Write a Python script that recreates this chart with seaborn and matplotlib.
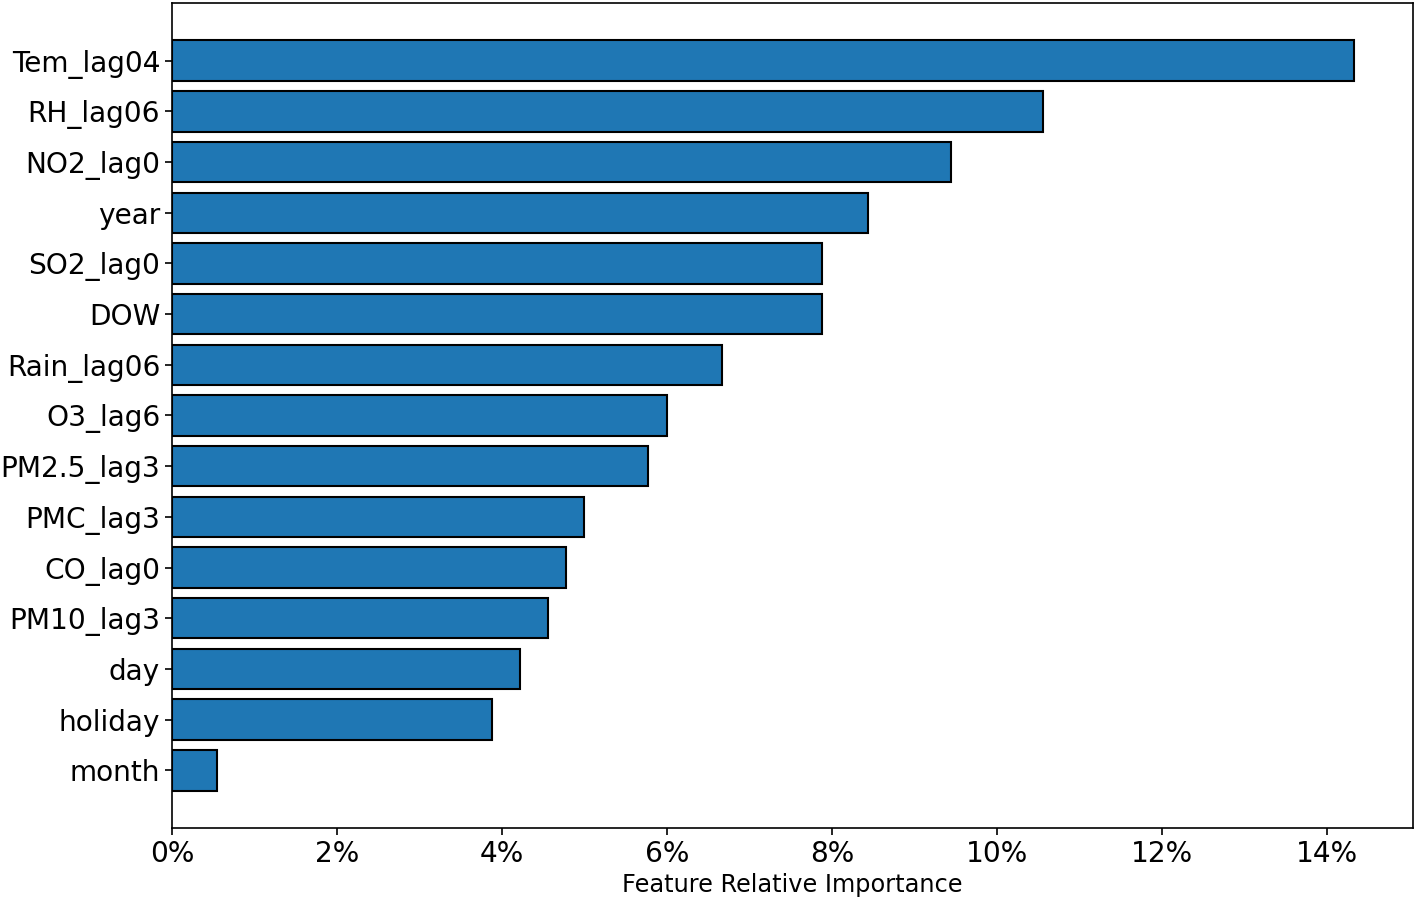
import matplotlib
matplotlib.use("Agg")
import matplotlib.pyplot as plt
import seaborn as sns
import pandas as pd
from matplotlib.ticker import FuncFormatter

features = ["Tem_lag04", "RH_lag06", "NO2_lag0", "year", "SO2_lag0", "DOW",
            "Rain_lag06", "O3_lag6", "PM2.5_lag3", "PMC_lag3", "CO_lag0",
            "PM10_lag3", "day", "holiday", "month"]
importance = [14.33, 10.55, 9.44, 8.44, 7.88, 7.88, 6.67, 6.00, 5.77, 4.99,
              4.78, 4.56, 4.22, 3.88, 0.55]
xticks = [0, 2, 4, 6, 8, 10, 12, 14]

df = pd.DataFrame({"feature": features, "importance": importance})

sns.set_theme(style="ticks")
plt.rcParams['font.family'] = ['DejaVu Sans']
plt.rcParams['text.color'] = 'black'
plt.rcParams['axes.labelcolor'] = 'black'

fig = plt.figure(figsize=(14.18, 9.01), dpi=100)
ax = fig.add_axes([0.1213, 0.081, 0.9965 - 0.1213, 0.9967 - 0.081])

sns.barplot(data=df, x="importance", y="feature", orient="h", color="#1f77b4",
            saturation=1, edgecolor="black", linewidth=1.5, width=0.8, ax=ax)

ax.set_xlim(0, 15.04)
ax.set_ylim(len(features) - 1 + 1.14, -1.14)
ax.set_xticks(xticks)
ax.xaxis.set_major_formatter(FuncFormatter(lambda v, p: f"{v:.0f}%"))
ax.tick_params(axis="both", labelsize=20.2, length=5, width=1.2, colors="black")
ax.tick_params(axis="y", pad=3.5)
ax.set_xlabel("Feature Relative Importance", fontsize=17.3, labelpad=4, color="black")
ax.set_ylabel("")
for s in ax.spines.values():
    s.set_visible(True)
    s.set_color("black")
    s.set_linewidth(1.2)

fig.savefig("out.png", dpi=100)
